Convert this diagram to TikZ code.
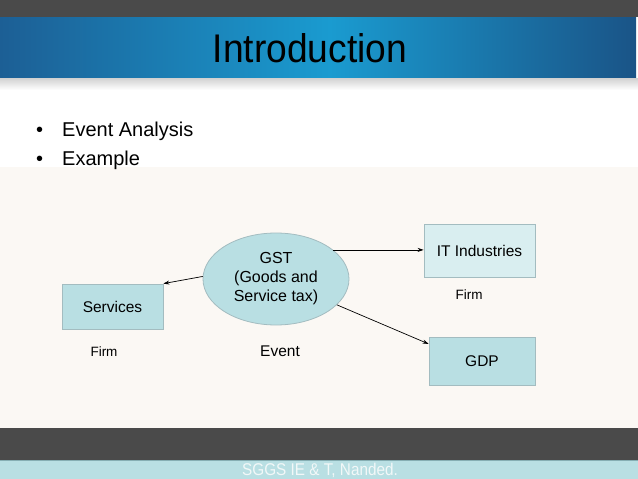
\documentclass[tikz,border=0pt]{standalone}
\usepackage{fontspec}
\setmainfont{Liberation Sans}
\newfontfamily\titlefont[FakeStretch=0.93]{Liberation Sans}
\newfontfamily\footfont[FakeStretch=0.9]{Liberation Sans}
\usetikzlibrary{arrows.meta,shapes.geometric,calc}
\definecolor{barGray}{HTML}{4A4A4A}
\definecolor{blueSide}{HTML}{1C5F95}
\definecolor{blueMid}{HTML}{1A9BD0}
\definecolor{blueRight}{HTML}{1A5487}
\definecolor{offWhite}{HTML}{FBF8F4}
\definecolor{footBlue}{HTML}{B9DFE3}
\definecolor{footLine}{HTML}{86AEB3}
\definecolor{tealFill}{HTML}{B9DFE3}
\definecolor{lightFill}{HTML}{D9EEF0}
\definecolor{boxLine}{HTML}{A3BCC0}
\definecolor{footText}{HTML}{F2F8F8}
\tikzset{
  boxnode/.style={draw=boxLine, line width=0.8pt, fill=tealFill, inner sep=0pt, font=\fontsize{15.5}{18}\selectfont},
  labelnode/.style={inner sep=0pt, font=\fontsize{15.5}{18}\selectfont},
  smalllabel/.style={inner sep=0pt, font=\fontsize{13.5}{16}\selectfont},
  conn/.style={line width=0.7pt, -{Stealth[length=6pt,width=4pt]}},
  bullettext/.style={inner sep=0pt, anchor=base west, font=\fontsize{20}{24}\selectfont}
}
\begin{document}
\begin{tikzpicture}[x=1pt,y=-1pt]
\useasboundingbox (0,0) rectangle (638,479);
% background bands
\fill[white] (0,0) rectangle (638,479);
\fill[barGray] (0,0) rectangle (638,17);
\shade[left color=blueSide, right color=blueMid] (0,17) rectangle (330,78);
\shade[left color=blueMid, right color=blueRight] (329.5,17) rectangle (636,78);
\shade[top color=black!18, bottom color=white] (0,78) rectangle (638,90);
\fill[offWhite] (0,167) rectangle (638,428);
\fill[barGray] (0,428) rectangle (638,460);
\fill[footBlue] (0,460) rectangle (638,479);
\draw[footLine, line width=1pt] (0,460.5) -- (638,460.5);
% title
\node[inner sep=0pt, font=\titlefont\fontsize{40}{46}\selectfont] (title) at (310,48) {Introduction};
% bullets
\node[bullettext] (b1) at (36,136) {\textbullet\hspace{19pt}Event Analysis};
\node[bullettext] (b2) at (36,165) {\textbullet\hspace{19pt}Example};
% diagram
\node[ellipse, draw=boxLine, line width=0.8pt, fill=tealFill, minimum width=146pt, minimum height=92pt, inner sep=0pt, align=center, font=\fontsize{16}{19}\selectfont] (gst) at (276,279) {GST\\(Goods and\\Service tax)};
\node[boxnode, minimum width=101pt, minimum height=45pt] (serv) at (112.5,306.5) {Services};
\node[boxnode, fill=lightFill, minimum width=111pt, minimum height=53pt] (it) at (479.5,250.5) {IT Industries};
\node[boxnode, minimum width=106pt, minimum height=48pt] (gdp) at (482,361) {GDP};
\node[smalllabel] (firm1) at (104,352) {Firm};
\node[smalllabel] (firm2) at (469,295) {Firm};
\node[labelnode] (event) at (280,351) {Event};
% connectors
\draw[conn] (gst.178) -- (serv.north east);
\draw[conn] (gst.27) -- (gst.27 -| it.west);
\coordinate (gdpin) at ($(gdp.north west)!0.15!(gdp.south west)$);
\draw[conn] (gst.-23) -- (gdpin);
% footer
\node[inner sep=0pt, text=footText, font=\footfont\fontsize{17}{19}\selectfont] (foot) at (320,470) {SGGS IE \& T, Nanded.};
\end{tikzpicture}
\end{document}
